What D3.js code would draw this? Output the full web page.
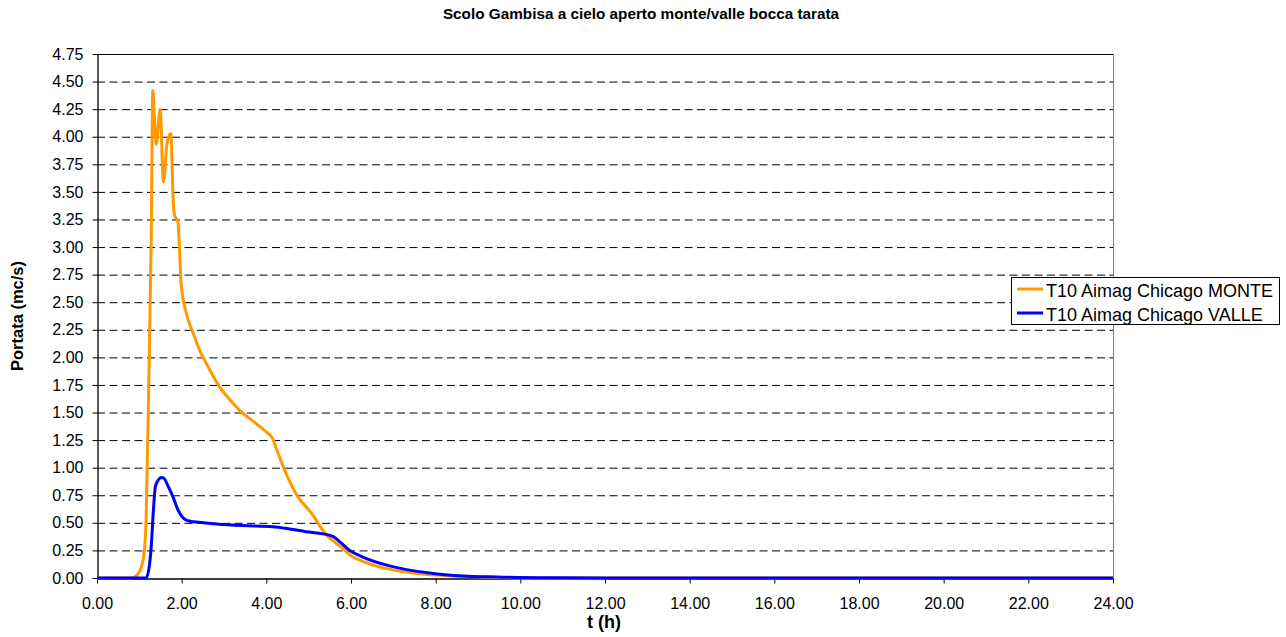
<!DOCTYPE html>
<html lang="it">
<head>
<meta charset="UTF-8">
<title>Scolo Gambisa a cielo aperto monte/valle bocca tarata</title>
<script src="https://d3js.org/d3.v7.min.js"></script>
<style>
    body { margin: 0; background: #fff; font-family: Arial, "Liberation Sans", sans-serif; }
    svg { display: block; }
    .tick text { font-size: 16px; fill: #000; }
    .domain { stroke: #000; }
    .tick line { stroke: #000; }
</style>
</head>
<body>
<div id="chart"></div>
<script>
// valori
const seriesNames = ["T10 Aimag Chicago MONTE", "T10 Aimag Chicago VALLE"];
const seriesColors = ["#ff9900", "#0000ff"];

const monteT = [0, 0.81, 0.95, 1.04, 1.12, 1.16, 1.22, 1.28, 1.32, 1.36, 1.40, 1.49, 1.57, 1.65, 1.74, 1.81, 1.83, 1.91, 1.99,
    2.11, 2.27, 2.42, 2.66, 2.90, 3.13, 3.37, 3.76, 4.04, 4.14, 4.24, 4.43, 4.74, 5.06, 5.42, 5.80, 5.97, 6.28, 6.68, 6.91, 7.46,
    8.64, 9.44, 10.5, 12, 24];
const monteQ = [0, 0, 0.03, 0.09, 0.25, 0.53, 1.7, 3.06, 4.42, 4.15, 3.93, 4.25, 3.59, 3.93, 4.03, 3.35, 3.29, 3.23, 2.66,
    2.40, 2.22, 2.07, 1.89, 1.73, 1.62, 1.52, 1.40, 1.31, 1.27, 1.17, 0.98, 0.74, 0.59, 0.39, 0.27, 0.21, 0.15, 0.10, 0.08, 0.045,
    0.015, 0.005, 0.001, 0, 0];

const valleT = [0, 1.16, 1.24, 1.28, 1.33, 1.38, 1.45, 1.52, 1.59, 1.67, 1.79, 1.91, 2.02, 2.11, 2.20, 2.42, 2.82, 3.44, 4.15,
    4.55, 4.94, 5.34, 5.58, 5.73, 5.97, 6.28, 6.91, 7.86, 8.64, 9.44, 10.9, 12, 24];
const valleQ = [0, 0, 0.12, 0.28, 0.6, 0.83, 0.89, 0.91, 0.90, 0.84, 0.74, 0.62, 0.55, 0.525, 0.515, 0.505, 0.49, 0.475, 0.465,
    0.445, 0.42, 0.40, 0.375, 0.33, 0.25, 0.19, 0.11, 0.045, 0.018, 0.009, 0.002, 0, 0];

const xTicks = d3.range(0, 24.001, 2);
const yTicks = d3.range(0, 4.751, 0.25);

const W = 1286, H = 637;
const plotL = 97, plotR = 1113, plotT = 54, plotB = 578;

const svg = d3.select("#chart").append("svg")
    .attr("width", W)
    .attr("height", H);

const x = d3.scaleLinear().domain([0, 24]).range([plotL, plotR]);
const y = d3.scaleLinear().domain([0, 4.75]).range([plotB, plotT]);

// griglia tratteggiata
svg.append("g")
    .selectAll("line")
    .data(yTicks.filter(v => v > 0 && v < 4.7))
    .enter().append("line")
    .attr("x1", plotL).attr("x2", plotR)
    .attr("y1", d => y(d) + 0.5).attr("y2", d => y(d) + 0.5)
    .attr("stroke", "#000")
    .attr("stroke-width", 1)
    .attr("stroke-dasharray", "8,4.5");

// bordo area grafico
svg.append("line")
    .attr("x1", plotL).attr("x2", plotR)
    .attr("y1", plotT + 0.5).attr("y2", plotT + 0.5)
    .attr("stroke", "#000");
svg.append("line")
    .attr("x1", plotR + 0.5).attr("x2", plotR + 0.5)
    .attr("y1", plotT).attr("y2", plotB)
    .attr("stroke", "#808080");

// assi
svg.append("g")
    .attr("transform", `translate(0,${plotB + 0.5})`)
    .call(d3.axisBottom(x).tickValues(xTicks).tickFormat(d3.format(".2f")).tickSize(5).tickPadding(14).tickSizeOuter(0));

svg.append("g")
    .attr("transform", `translate(${plotL + 0.5},0)`)
    .call(d3.axisLeft(y).tickValues(yTicks).tickFormat(d3.format(".2f")).tickSize(5).tickPadding(9).tickSizeOuter(0));

svg.selectAll(".domain").attr("stroke-width", 1.3);

// serie
const line = d3.line().x(d => x(d[0])).y(d => y(d[1])).curve(d3.curveMonotoneX);
const series = [
    d3.zip(monteT, monteQ),
    d3.zip(valleT, valleQ)
];
series.forEach((pts, i) => {
    svg.append("path")
        .datum(pts)
        .attr("d", line)
        .attr("fill", "none")
        .attr("stroke", seriesColors[i])
        .attr("stroke-width", 3)
        .attr("stroke-linejoin", "round");
});

// titoli
svg.append("text")
    .attr("x", 641).attr("y", 19)
    .attr("text-anchor", "middle")
    .style("font-size", "15.3px").style("font-weight", "bold")
    .text("Scolo Gambisa a cielo aperto monte/valle bocca tarata");

svg.append("text")
    .attr("x", 604).attr("y", 628)
    .attr("text-anchor", "middle")
    .style("font-size", "18px").style("font-weight", "bold")
    .text("t (h)");

svg.append("text")
    .attr("transform", "translate(23,316) rotate(-90)")
    .attr("text-anchor", "middle")
    .style("font-size", "16.5px").style("font-weight", "bold")
    .text("Portata (mc/s)");

// legenda
const legend = svg.append("g");
legend.append("rect")
    .attr("x", 1011.5).attr("y", 277.5)
    .attr("width", 268).attr("height", 47)
    .attr("fill", "#fff").attr("stroke", "#000");
seriesNames.forEach((name, i) => {
    const ly = 289 + i * 24;
    legend.append("line")
        .attr("x1", 1017).attr("x2", 1043)
        .attr("y1", ly).attr("y2", ly)
        .attr("stroke", seriesColors[i]).attr("stroke-width", 3);
    legend.append("text")
        .attr("x", 1046).attr("y", ly + 8)
        .style("font-size", "18px")
        .text(name);
});
</script>
</body>
</html>
